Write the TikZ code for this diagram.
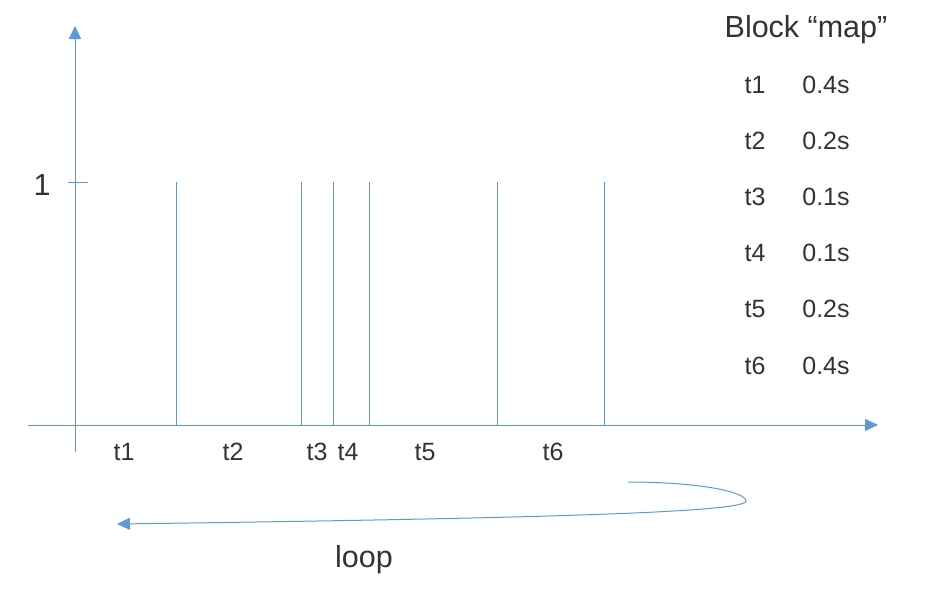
\documentclass[tikz,border=0pt]{standalone}
\usepackage{fontspec}
\setmainfont{Liberation Sans}
\usetikzlibrary{arrows.meta}
\definecolor{ejeazul}{HTML}{5B9BD5}
\definecolor{texto}{HTML}{333333}
\begin{document}
\begin{tikzpicture}[x=1pt, y=-1pt,
    eje/.style={draw=ejeazul, line width=1pt, -{Triangle[length=13pt, width=12pt]}},
    pulso/.style={draw=ejeazul, line width=1pt},
    etiqueta/.style={inner sep=0pt, text=texto, font=\fontsize{25}{29}\selectfont},
    titulo/.style={inner sep=0pt, text=texto, font=\fontsize{30.5}{35}\selectfont}]
    \useasboundingbox (0,0) rectangle (926,590);

    % Ejes
    \coordinate (o) at (75,425);
    \coordinate (xini) at (28,425);
    \coordinate (xfin) at (878,425);
    \coordinate (yini) at (75,452);
    \coordinate (yfin) at (75,26);
    \draw[eje] (xini) -- (xfin);
    \draw[eje] (yini) -- (yfin);
    \coordinate (ticini) at (68,182);
    \coordinate (ticfin) at (88,182);
    \draw[pulso] (ticini) -- (ticfin);
    \node[titulo] (uno) at (42,185) {1};

    % Pulsos
    \foreach \x/\n in {176/a, 301/b, 333/c, 369/d, 497/e, 604/f} {
        \coordinate (p\n) at (\x,182);
        \coordinate (q\n) at (\x,425);
        \draw[pulso] (p\n) -- (q\n);
    }

    % Intervalos
    \foreach \x/\n in {124/1, 233/2, 317/3, 348/4, 425/5, 553/6}
        \node[etiqueta] (t\n) at (\x,452) {t\n};

    % Tabla
    \node[titulo] (bloque) at (806,30) {Block “map”};
    \foreach \y/\n/\d in {85/1/0.4, 141/2/0.2, 197/3/0.1, 253/4/0.1, 309/5/0.2, 366/6/0.4} {
        \node[etiqueta] (k\n) at (755,\y) {t\n};
        \node[etiqueta] (v\n) at (826,\y) {\d s};
    }

    % Lazo
    \coordinate (lini) at (628,482);
    \coordinate (lfin) at (117,524);
    \draw[eje] (lini) .. controls (700,482) and (746,492) .. (746,501)
        .. controls (746,512) and (560,518) .. (lfin);
    \node[titulo] (lazo) at (364,560) {loop};
\end{tikzpicture}
\end{document}
